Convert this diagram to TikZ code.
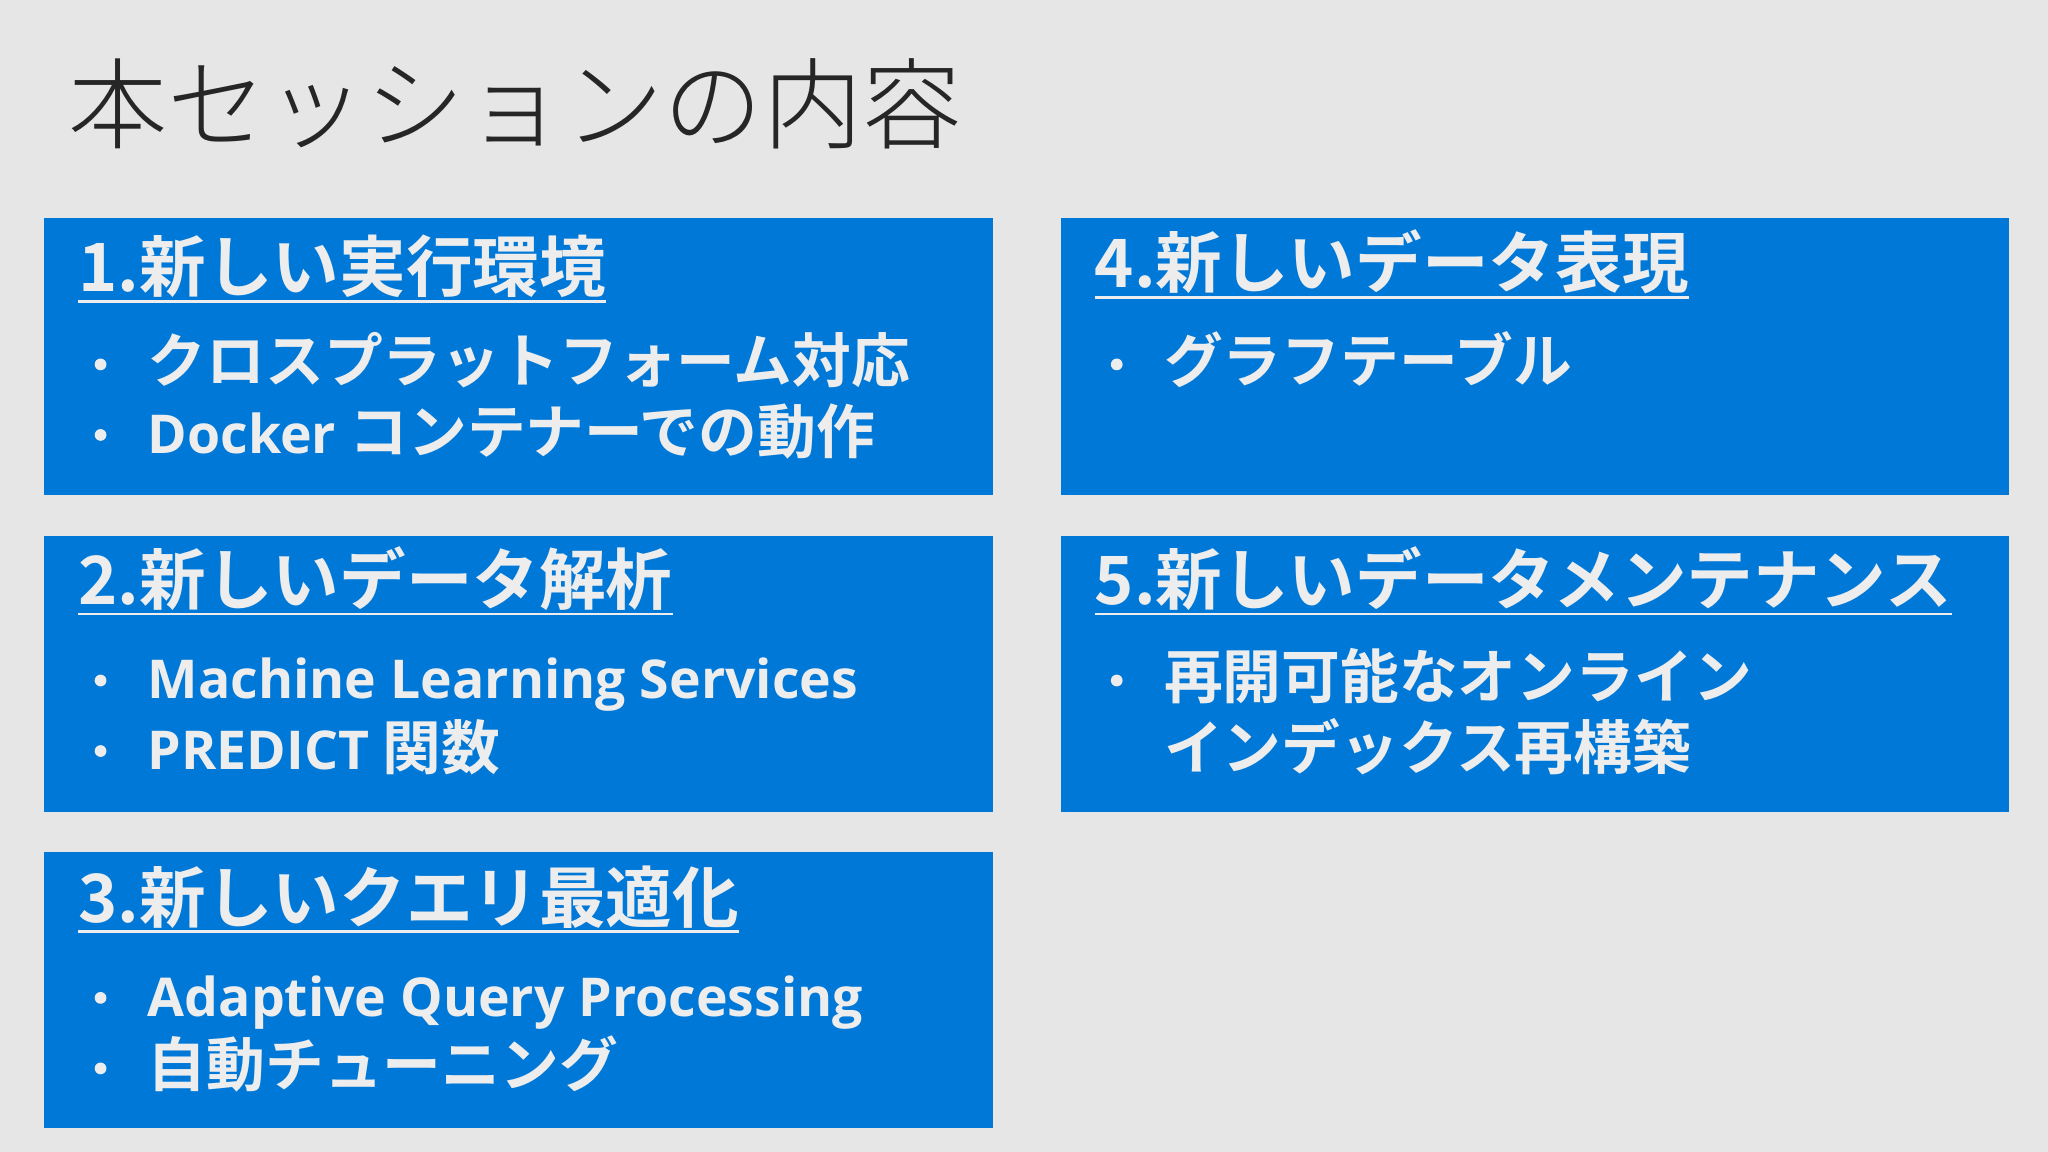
\documentclass[tikz,border=0pt]{standalone}
\usepackage{fontspec}
\setmainfont{Noto Sans CJK JP}
\newfontfamily\jpb{Noto Sans CJK JP Bold}
\newfontfamily\jpl{Noto Sans CJK JP Light}
\newfontfamily\latb{Open Sans Bold}
\newcommand{\lt}[1]{{\latb\fontsize{41}{46}\selectfont #1}}
\definecolor{bg}{HTML}{E6E6E6}
\definecolor{boxc}{HTML}{0078D7}
\definecolor{txt}{HTML}{EDEDED}
\definecolor{ttl}{HTML}{262626}
\begin{document}
\begin{tikzpicture}[x=1pt,y=-1pt,
  panel/.style={fill=boxc,draw=none},
  head/.style={anchor=base west,inner sep=0pt,text=txt,font=\jpb\fontsize{51}{56}\selectfont},
  item/.style={anchor=base west,inner sep=0pt,text=txt,font=\jpb\fontsize{45}{50}\selectfont},
  dot/.style={circle,fill=txt,inner sep=0pt,minimum size=9pt},
  uline/.style={draw=txt,line width=2pt}]
\fill[bg] (0,0) rectangle (1568,882);
\useasboundingbox (0,0) rectangle (1568,882);
\node[anchor=base west,inner sep=0pt,text=ttl,font=\jpl\fontsize{76}{84}\selectfont] (title) at (52,108) {本セッションの内容};
% boxes
\fill[panel] (34,167) rectangle (760,379);
\fill[panel] (812,167) rectangle (1538,379);
\fill[panel] (34,410) rectangle (760,622);
\fill[panel] (812,410) rectangle (1538,622);
\fill[panel] (34,652) rectangle (760,864);
% box 1
\node[head] (h1) at (60,223) {1.新しい実行環境};
\draw[uline] (60,231) -- (h1.base east |- 0,231);
\node[dot] at (77,279) {}; \node[item] (a1) at (113,293) {クロスプラットフォーム対応};
\node[dot] at (77,333) {}; \node[item] (a2) at (113,347) {\lt{Docker} コンテナーでの動作};
% box 4
\node[head] (h4) at (838,220) {4.新しいデータ表現};
\draw[uline] (838,228) -- (h4.base east |- 0,228);
\node[dot] at (855,279) {}; \node[item] (d1) at (891,293) {グラフテーブル};
% box 2
\node[head] (h2) at (60,463) {2.新しいデータ解析};
\draw[uline] (60,470) -- (h2.base east |- 0,470);
\node[dot] at (77,521) {}; \node[item] (b1) at (113,535) {\lt{Machine Learning Services}};
\node[dot] at (77,575) {}; \node[item] (b2) at (113,589) {\lt{PREDICT} 関数};
% box 5
\node[head] (h5) at (838,463) {5.新しいデータメンテナンス};
\draw[uline] (838,470) -- (h5.base east |- 0,470);
\node[dot] at (855,521) {}; \node[item] (e1) at (891,535) {再開可能なオンライン};
\node[item] (e2) at (891,589) {インデックス再構築};
% box 3
\node[head] (h3) at (60,706) {3.新しいクエリ最適化};
\draw[uline] (60,713) -- (h3.base east |- 0,713);
\node[dot] at (77,764) {}; \node[item] (c1) at (113,778) {\lt{Adaptive Query Processing}};
\node[dot] at (77,818) {}; \node[item] (c2) at (113,832) {自動チューニング};
\end{tikzpicture}
\end{document}
